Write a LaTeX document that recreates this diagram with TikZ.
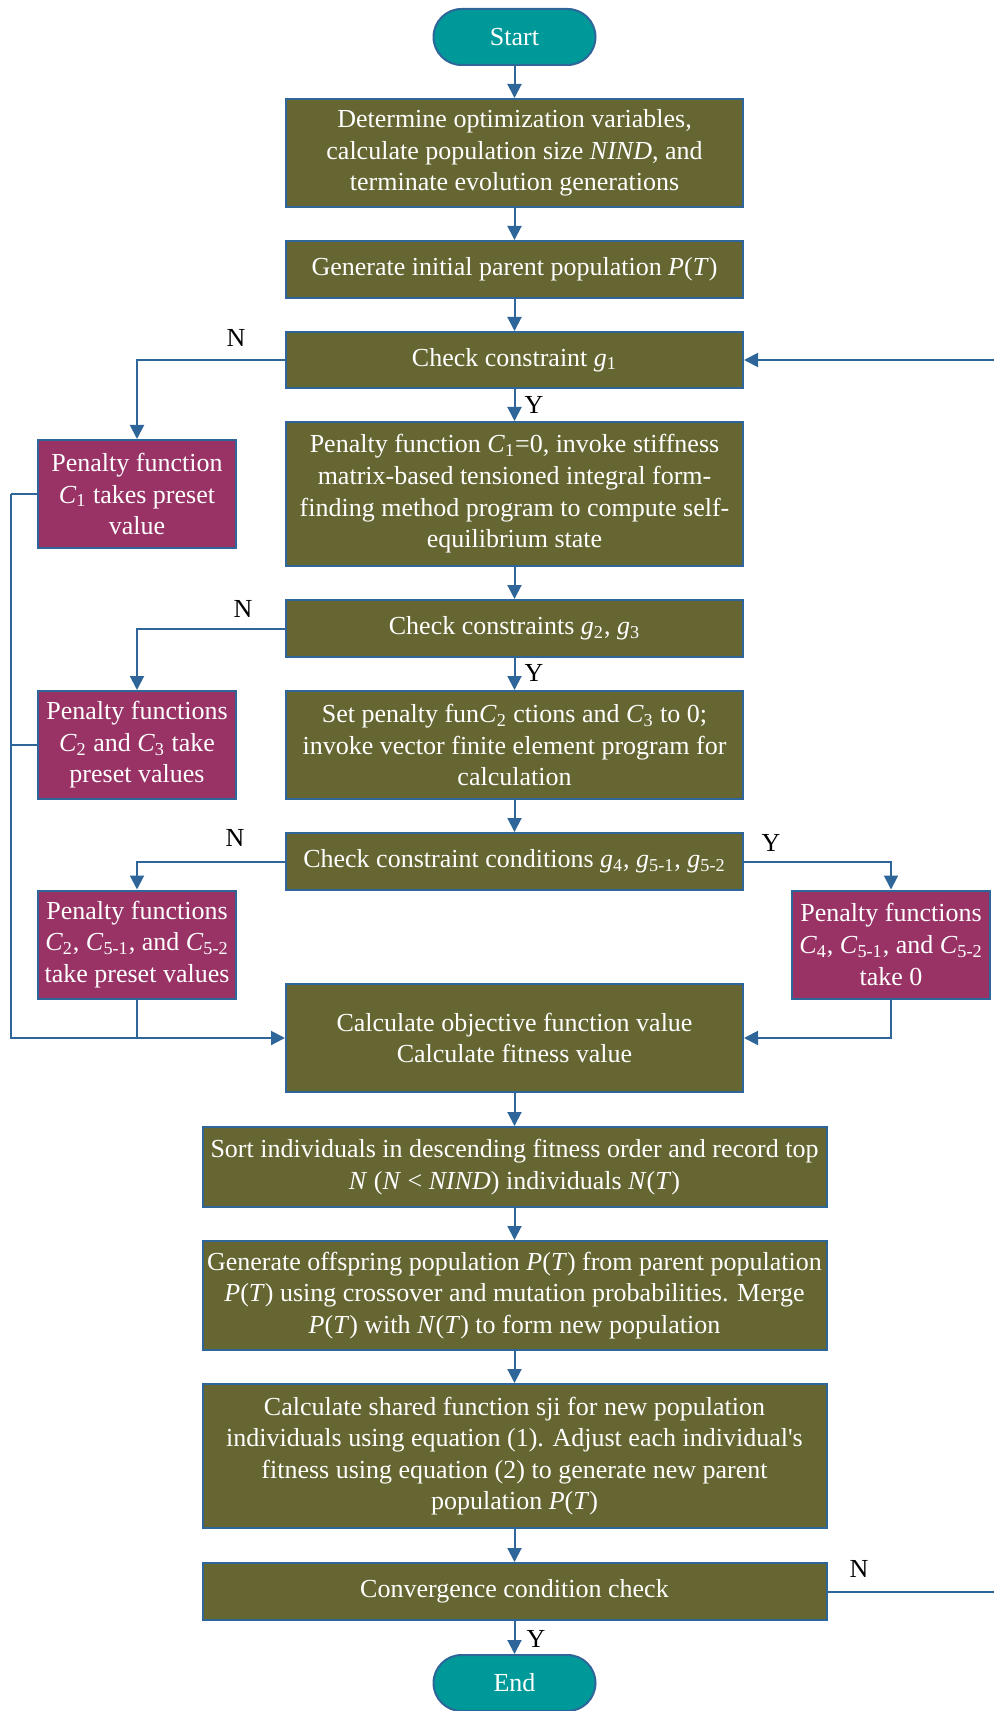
\documentclass[tikz,border=0pt]{standalone}
\usepackage{fontspec}
\setmainfont{Liberation Serif}
\usetikzlibrary{arrows.meta}
\definecolor{olive}{RGB}{102,102,51}
\definecolor{plum}{RGB}{153,51,102}
\definecolor{teal}{RGB}{0,153,153}
\definecolor{edge}{RGB}{46,102,153}
\newcommand{\ital}[1]{\textit{#1}}
\newcommand{\sbs}[1]{\textsubscript{#1}}
\tikzset{
  box/.style={draw=edge,line width=1pt,text=white,align=center,inner sep=2pt,
    font=\fontsize{13}{15.8}\selectfont},
  proc/.style={box,fill=olive,minimum width=228.5pt},
  wide/.style={box,fill=olive,minimum width=312pt},
  pen/.style={box,fill=plum,minimum width=99pt,minimum height=54pt},
  term/.style={box,fill=teal,minimum width=81pt,minimum height=28pt,rounded corners=14pt},
  lab/.style={font=\fontsize{13}{15.8}\selectfont,inner sep=1pt},
  line/.style={draw=edge,line width=1pt},
  arr/.style={line,-{Triangle[length=7pt,width=7pt]}}
}
\begin{document}
\begin{tikzpicture}[x=0.5pt,y=-0.5pt]
\useasboundingbox(0,0)rectangle(993,1711);
% main column
\node[term](start)at(514.5,37){Start};
\node[proc,minimum height=54pt](b1)at(514.5,153){Determine optimization variables,\\calculate population size \ital{NIND}, and\\terminate evolution generations};
\node[proc,minimum height=28.5pt](b2)at(514.5,269.5){Generate initial parent population \ital{P}(\ital{T})};
\node[proc,minimum height=28pt](g1)at(514.5,360){Check constraint \ital{g}\sbs{1}};
\node[proc,minimum height=72pt](b3)at(514.5,494){Penalty function \ital{C}\sbs{1}=0, invoke stiffness\\matrix-based tensioned integral form-\\finding method program to compute self-\\equilibrium state};
\node[proc,minimum height=28.5pt](g2)at(514.5,628.5){Check constraints \ital{g}\sbs{2}, \ital{g}\sbs{3}};
\node[proc,minimum height=54pt](b4)at(514.5,745){Set penalty fun\ital{C}\sbs{2} ctions and \ital{C}\sbs{3} to 0;\\invoke vector finite element program for\\calculation};
\node[proc,minimum height=28.5pt](g4)at(514.5,861.5){Check constraint conditions \ital{g}\sbs{4}, \ital{g}\sbs{5-1}, \ital{g}\sbs{5-2}};
\node[proc,minimum height=54pt](b5)at(514.5,1038){Calculate objective function value\\Calculate fitness value};
\node[wide,minimum height=40pt](b6)at(514.5,1167){Sort individuals in descending fitness order and record top\\\ital{N} (\ital{N} < \ital{NIND}) individuals \ital{N}(\ital{T})};
\node[wide,minimum height=54.5pt](b7)at(514.5,1295.5){Generate offspring population \ital{P}(\ital{T}) from parent population\\\ital{P}(\ital{T}) using crossover and mutation probabilities. Merge\\\ital{P}(\ital{T}) with \ital{N}(\ital{T}) to form new population};
\node[wide,minimum height=72pt](b8)at(514.5,1456){Calculate shared function sji for new population\\individuals using equation (1). Adjust each individual\textquotesingle s\\fitness using equation (2) to generate new parent\\population \ital{P}(\ital{T})};
\node[wide,minimum height=28.5pt](conv)at(514.5,1591.5){Convergence condition check};
\node[term](end)at(514.5,1683){End};
% penalty boxes
\node[pen](p1)at(137,494){Penalty function\\\ital{C}\sbs{1} takes preset\\value};
\node[pen](p2)at(137,745){Penalty functions\\\ital{C}\sbs{2} and \ital{C}\sbs{3} take\\preset values};
\node[pen](p3)at(137,944.5){Penalty functions\\\ital{C}\sbs{2}, \ital{C}\sbs{5-1}, and \ital{C}\sbs{5-2}\\take preset values};
\node[pen](p4)at(891,944.5){Penalty functions\\\ital{C}\sbs{4}, \ital{C}\sbs{5-1}, and \ital{C}\sbs{5-2}\\take 0};
% Y and N
\node[lab](n1)at(236,338){N};
\node[lab](y1)at(534,405){Y};
\node[lab](n2)at(243,609){N};
\node[lab](y2)at(534,673){Y};
\node[lab](n3)at(235,838){N};
\node[lab](y3)at(771,843){Y};
\node[lab](n4)at(859,1569){N};
\node[lab](y4)at(536,1639){Y};
% bus lines
\coordinate(lbus)at(11,494);
\coordinate(rbus)at(1000,360);
% connectors
\draw[arr](start)--(b1);
\draw[arr](b1)--(b2);
\draw[arr](b2)--(g1);
\draw[arr](g1)--(b3);
\draw[arr](b3)--(g2);
\draw[arr](g2)--(b4);
\draw[arr](b4)--(g4);
\draw[arr](b5)--(b6);
\draw[arr](b6)--(b7);
\draw[arr](b7)--(b8);
\draw[arr](b8)--(conv);
\draw[arr](conv)--(end);
\draw[arr](g1.west)-|(p1.north);
\draw[arr](g2.west)-|(p2.north);
\draw[arr](g4.west)-|(p3.north);
\draw[arr](g4.east)-|(p4.north);
\draw[arr](p4.south)|-(b5.east);
\draw[line](p1.west)--(lbus);
\draw[arr](lbus)|-(b5.west);
\draw[line](p2.west)--(p2.west-|lbus);
\draw[line](p3.south)--(p3.south|-b5.west);
\draw[line](conv.east)--(conv.east-|rbus)--(rbus);
\draw[arr](rbus)--(g1.east);
\end{tikzpicture}
\end{document}
